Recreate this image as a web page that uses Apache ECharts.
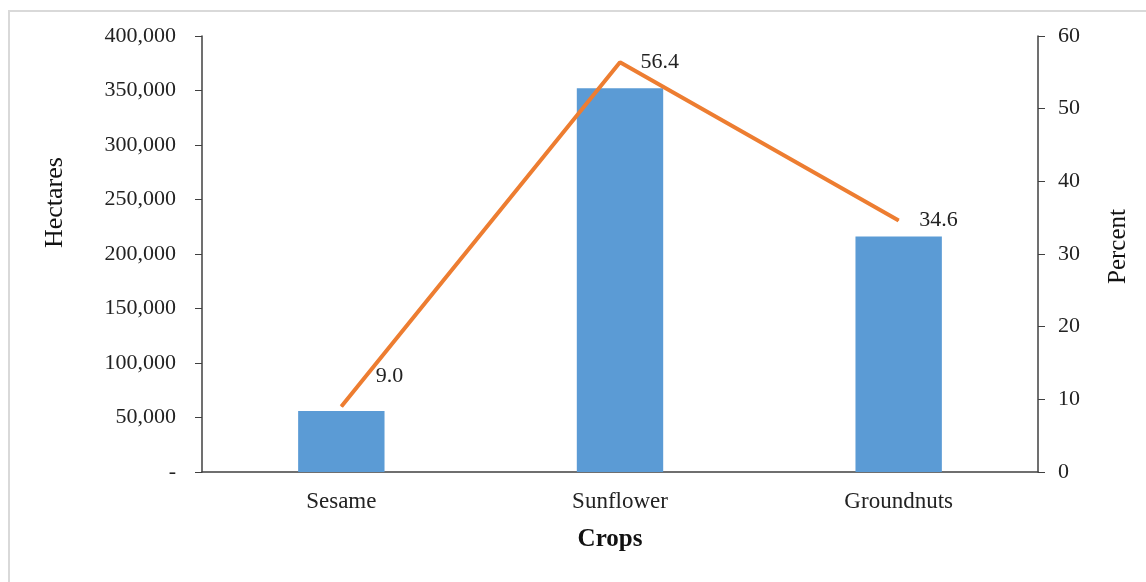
<!DOCTYPE html>
<html>
<head>
<meta charset="utf-8">
<script src="https://cdn.jsdelivr.net/npm/echarts@6/dist/echarts.min.js"></script>
<style>
html,body{margin:0;padding:0;background:#fff;}
#frame{position:absolute;left:8px;top:10px;width:1150px;height:580px;border:2px solid #d9d9d9;box-sizing:border-box;}
#c{position:absolute;left:0;top:0;width:1146px;height:582px;}
</style>
</head>
<body>
<div id="frame"></div>
<div id="c"></div>
<script>
const categories = ['Sesame', 'Sunflower', 'Groundnuts'];
const hectares = [56000, 352000, 216000];
const percent = [9.0, 56.4, 34.6];
const leftTicks = [0, 50000, 100000, 150000, 200000, 250000, 300000, 350000, 400000];
const rightTicks = [0, 10, 20, 30, 40, 50, 60];

const chart = echarts.init(document.getElementById('c'));
const font = '"Liberation Serif", "Times New Roman", serif';
const axisCol = '#404040';
const labelOffsets = [[34, -30], [20, 0], [20, 0]];

chart.setOption({
  animation: false,
  textStyle: { fontFamily: font },
  grid: { left: 202, right: 108, top: 36, bottom: 110, containLabel: false },
  xAxis: {
    type: 'category',
    data: categories,
    axisLine: { lineStyle: { color: axisCol, width: 1.5 } },
    axisTick: { show: false },
    axisLabel: { color: '#222', fontSize: 23, fontFamily: font, margin: 18 }
  },
  yAxis: [{
    type: 'value', min: 0, max: 400000, interval: 50000,
    splitLine: { show: false },
    axisLine: { show: true, lineStyle: { color: axisCol, width: 1.5 } },
    axisTick: { show: true, inside: false, length: 7, lineStyle: { color: axisCol } },
    axisLabel: {
      color: '#222', fontSize: 22, fontFamily: font, margin: 26,
      formatter: v => v === 0 ? '-' : v.toLocaleString('en-US')
    }
  }, {
    type: 'value', min: 0, max: 60, interval: 10,
    position: 'right',
    splitLine: { show: false },
    axisLine: { show: true, lineStyle: { color: axisCol, width: 1.5 } },
    axisTick: { show: true, inside: false, length: 7, lineStyle: { color: axisCol } },
    axisLabel: { color: '#222', fontSize: 22, fontFamily: font, margin: 20 }
  }],
  series: [{
    type: 'bar',
    data: hectares,
    yAxisIndex: 0,
    barWidth: '31%',
    itemStyle: { color: '#5B9BD5' }
  }, {
    type: 'line',
    data: percent.map((v, i) => ({
      value: v,
      label: { offset: labelOffsets[i] }
    })),
    yAxisIndex: 1,
    symbol: 'circle',
    symbolSize: 1,
    showSymbol: true,
    itemStyle: { color: '#ED7D31' },
    lineStyle: { color: '#ED7D31', width: 4 },
    label: {
      show: true, position: 'right', distance: 0, color: '#222', fontSize: 22, fontFamily: font,
      formatter: p => p.value.toFixed(1)
    },
    z: 5
  }],
  graphic: [
    { type: 'text', x: 610, y: 527, style: { text: 'Crops', font: 'bold 25px ' + font, fill: '#111', textAlign: 'center' } },
    { type: 'text', x: 42, y: 248, rotation: Math.PI / 2, originX: 0, originY: 0,
      style: { text: 'Hectares', font: '26px ' + font, fill: '#111' } },
    { type: 'text', x: 1106, y: 284, rotation: Math.PI / 2, originX: 0, originY: 0,
      style: { text: 'Percent', font: '25px ' + font, fill: '#111' } }
  ]
});
</script>
</body>
</html>
